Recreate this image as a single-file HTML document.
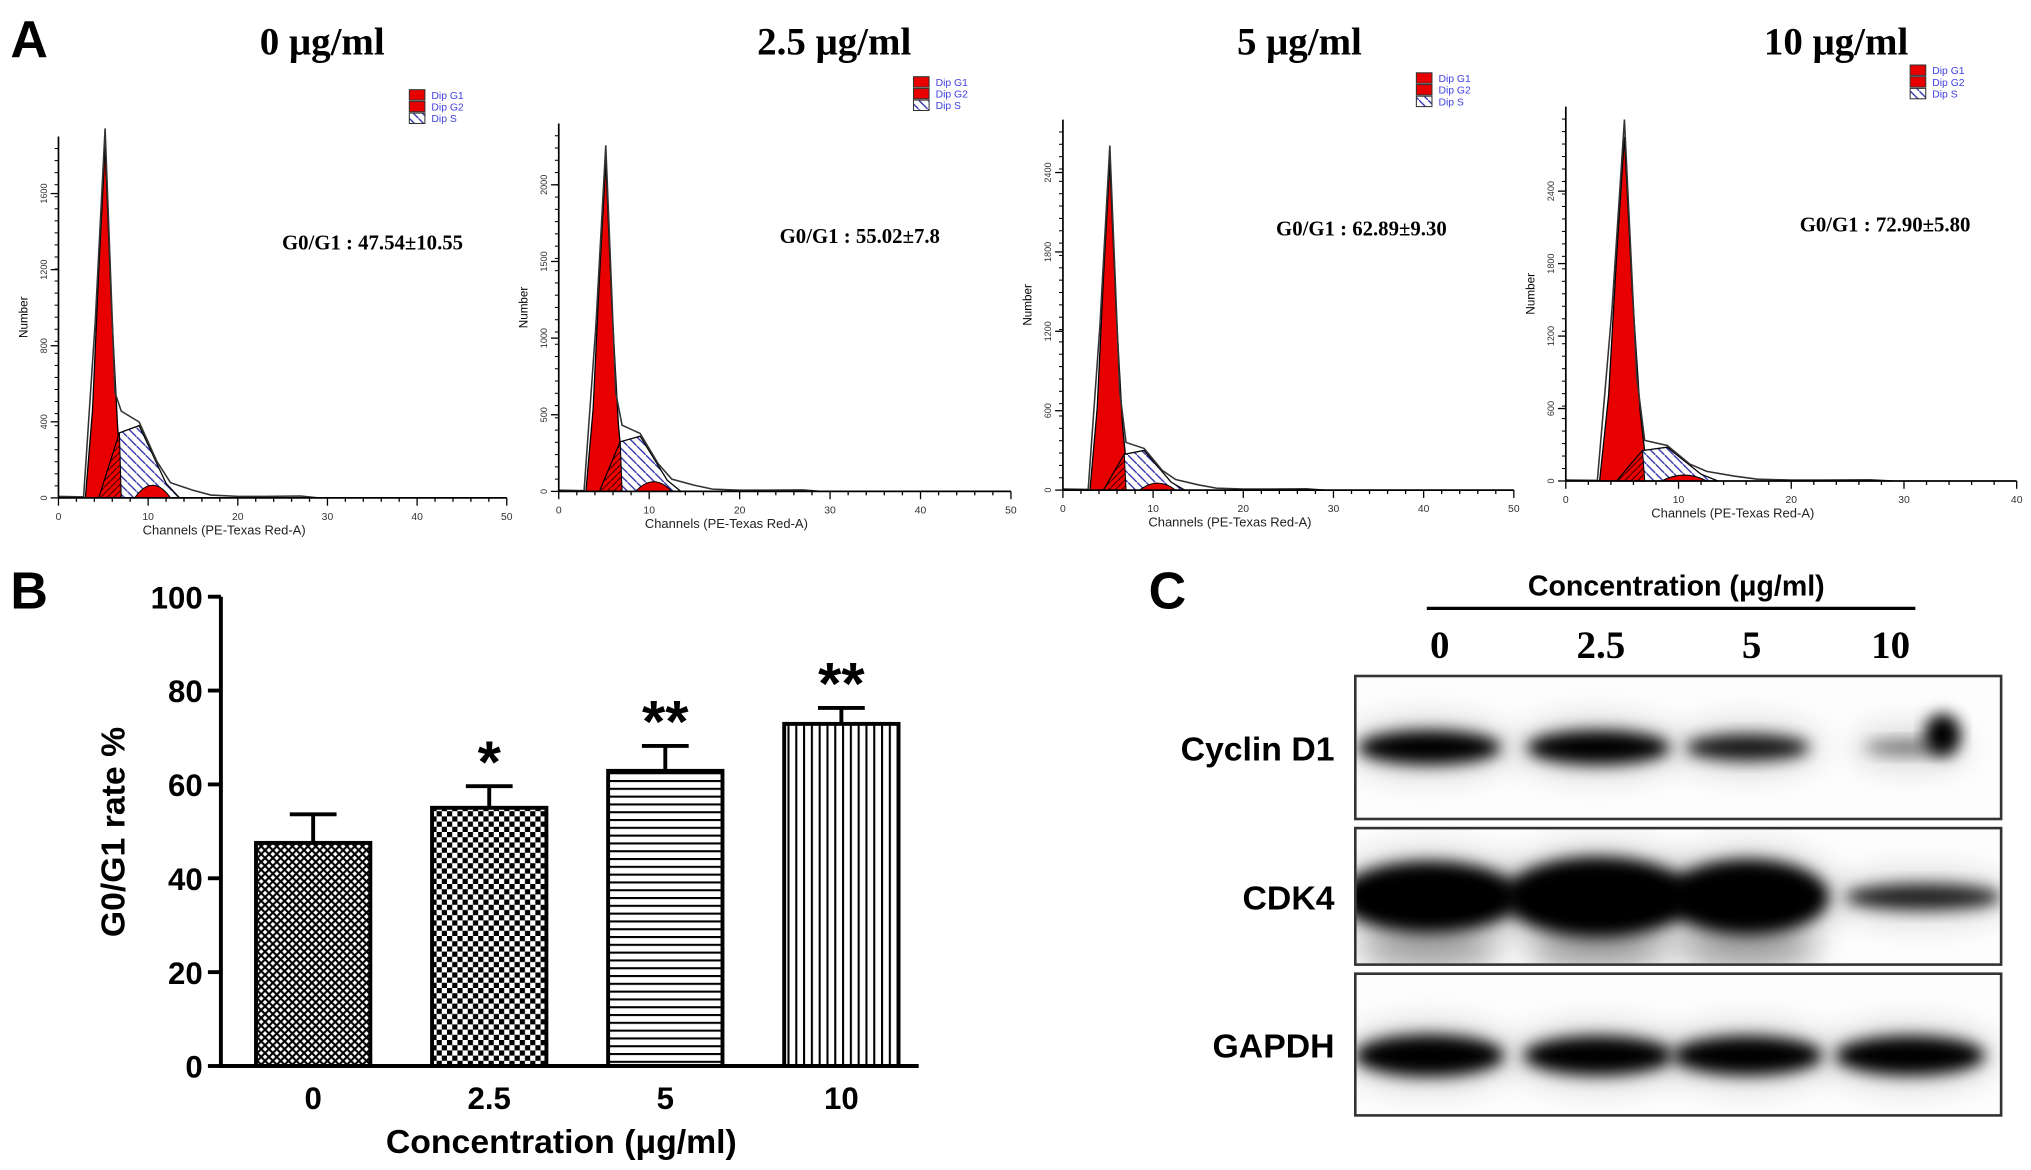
<!DOCTYPE html>
<html><head><meta charset="utf-8">
<style>
html,body{margin:0;padding:0;background:#fff;}
svg{display:block;}
text{font-family:"Liberation Sans",sans-serif;}
.serif{font-family:"Liberation Serif",serif;font-weight:bold;}
</style></head>
<body>
<svg id="fig" width="2031" height="1170" viewBox="0 0 1563 900" preserveAspectRatio="none" xmlns="http://www.w3.org/2000/svg">
<defs>
<pattern id="pS" width="7" height="7" patternUnits="userSpaceOnUse"><rect width="7" height="7" fill="#fff"/><path d="M0,0 L7,7" stroke="#2a2aa8" stroke-width="1"/></pattern>
<pattern id="pG1h" width="5" height="5" patternUnits="userSpaceOnUse"><rect width="5" height="5" fill="#e00"/><path d="M0,5 L5,0" stroke="#300" stroke-width="0.8"/></pattern>
<pattern id="pCross" width="6" height="6" patternUnits="userSpaceOnUse"><rect width="6" height="6" fill="#fff"/><path d="M0,0 L6,6 M6,0 L0,6" stroke="#000" stroke-width="1.6"/></pattern>
<pattern id="pCheck" width="8" height="8" patternUnits="userSpaceOnUse"><rect width="8" height="8" fill="#fff"/><rect width="4" height="4" fill="#000"/><rect x="4" y="4" width="4" height="4" fill="#000"/></pattern>
<pattern id="pHoriz" width="8" height="6" patternUnits="userSpaceOnUse"><rect width="8" height="6" fill="#fff"/><rect y="0" width="8" height="1.6" fill="#000"/></pattern>
<pattern id="pVert" width="6" height="8" patternUnits="userSpaceOnUse"><rect width="6" height="8" fill="#fff"/><rect x="0" width="1.6" height="8" fill="#000"/></pattern>
<filter id="blur" x="-30%" y="-50%" width="160%" height="200%"><feGaussianBlur stdDeviation="6"/></filter>
<filter id="blur2" x="-30%" y="-50%" width="160%" height="200%"><feGaussianBlur stdDeviation="12"/></filter>
</defs>
<text x="8" y="44" font-size="40" font-weight="bold">A</text>
<text x="8" y="468" font-size="40" font-weight="bold">B</text>
<text x="884" y="468" font-size="40" font-weight="bold">C</text>
<g id="panelA"></g>
<g id="panelB"></g>
<g id="panelC"></g>
</svg>
<script>
const NS="http://www.w3.org/2000/svg";
function el(tag,attrs,parent,txt){const e=document.createElementNS(NS,tag);for(const k in attrs)e.setAttribute(k,attrs[k]);if(txt!==undefined)e.textContent=txt;parent.appendChild(e);return e;}

/* ---------- Panel A data ---------- */
const histTitles=["0 μg/ml","2.5 μg/ml","5 μg/ml","10 μg/ml"];
const histG1Text=["G0/G1 :  47.54±10.55","G0/G1 :  55.02±7.8","G0/G1 :  62.89±9.30","G0/G1 :  72.90±5.80"];
const histYTicks=[["0","400","800","1200","1600"],["0","500","1000","1500","2000"],["0","600","1200","1800","2400"],["0","600","1200","1800","2400"]];
const histYMax=[1900,2400,2800,3100];
const histPeak=[1850,2150,2480,2850];
const histSPlateau=[380,360,300,280];
const histXMax=[50,50,50,40];
const histXTicks=[[0,10,20,30,40,50],[0,10,20,30,40,50],[0,10,20,30,40,50],[0,10,20,30,40]];
const histTitleX=[248,642,1000,1413];
const histBox=[[45,390,105,383],[430,778,95,378],[818,1165,92,377],[1205,1552,82,370]];
const histG1Pos=[[217,192],[600,187],[982,181],[1385,178]];

const A=document.getElementById('panelA');
for(let p=0;p<4;p++){
  const g=el('g',{},A);
  
  
  const [x0,x1,yt,yb]=histBox[p];
  const xm=histXMax[p], ym=histYMax[p];
  const X=c=>x0+(c/xm)*(x1-x0);
  const Y=v=>yb-(v/ym)*(yb-yt);
  const t=el('text',{x:histTitleX[p],y:42,'font-size':30,'text-anchor':'middle',class:'serif'},g,histTitles[p]);
  
  const pk=histPeak[p], sp=histSPlateau[p];
  const g1=[[3,0],[3.8,pk*0.25],[4.5,pk*0.65],[5.2,pk],[5.9,pk*0.55],[6.6,pk*0.2],[7.3,0]];
  el('path',{d:'M'+g1.map(q=>X(q[0])+','+Y(q[1])).join(' L')+'Z',fill:'#e80000',stroke:'#000','stroke-width':1},g);
  const s=[[4.5,0],[6.8,sp*0.9],[9,sp],[10.5,sp*0.6],[12,sp*0.2],[13.5,0]];
  el('path',{d:'M'+s.map(q=>X(q[0])+','+Y(q[1])).join(' L')+'Z',fill:'url(#pS)',stroke:'#000','stroke-width':1},g);
  el('path',{d:`M${X(4.5)},${Y(0)} L${X(6.8)},${Y(sp*0.9)} L${X(7)},${Y(0)}Z`,fill:'url(#pG1h)',stroke:'#000','stroke-width':0.8},g);
  el('path',{d:`M${X(8.5)},${Y(0)} Q${X(10.5)},${Y(sp*0.35)} ${X(12.5)},${Y(0)}Z`,fill:'#e80000',stroke:'#000','stroke-width':0.8},g);
  const o=[[0,8],[2.8,5],[4.1,pk*0.5],[5.2,pk*1.05],[6.3,pk*0.3],[7,sp*1.2],[9,sp*1.05],[11,sp*0.5],[12.5,80],[15,40],[17,15],[20,8],[23,8],[27,10],[29,0]];
  el('path',{d:'M'+o.map(q=>X(q[0])+','+Y(q[1])).join(' L'),fill:'none',stroke:'#333','stroke-width':1.2},g);
  el('line',{x1:x0,y1:yt,x2:x0,y2:yb,stroke:'#000','stroke-width':1.3},g);
  el('line',{x1:x0,y1:yb,x2:x1,y2:yb,stroke:'#000','stroke-width':1.3},g);
  for(let c=0;c<=xm;c+=2) el('line',{x1:X(c),y1:yb,x2:X(c),y2:yb+(c%10==0?6:3),stroke:'#000','stroke-width':1},g);
  histXTicks[p].forEach(c=>{el('text',{x:X(c),y:yb+17,'font-size':8,'text-anchor':'middle',fill:'#333'},g,String(c));});
  histYTicks[p].forEach((l,i)=>{const v=+l;const yy=Y(v);el('line',{x1:x0-6,y1:yy,x2:x0,y2:yy,stroke:'#000'},g);
    el('text',{x:x0-9,y:yy,'font-size':7,'text-anchor':'middle',transform:`rotate(-90 ${x0-9} ${yy})`,fill:'#333'},g,l);});
  for(let k=1;k<30;k++){const yy=yb-k*(yb-yt)/30;if(yy<yt)break;el('line',{x1:x0-3,y1:yy,x2:x0,y2:yy,stroke:'#000','stroke-width':0.8},g);}
  el('text',{x:x0-24,y:(yt+yb)/2,'font-size':9,'text-anchor':'middle',transform:`rotate(-90 ${x0-24} ${(yt+yb)/2})`},g,'Number');
  el('text',{x:(x0+x1)/2-45,y:yb+28,'font-size':10,'text-anchor':'middle',fill:'#222'},g,'Channels (PE-Texas Red-A)');
  const gt=el('text',{x:histG1Pos[p][0],y:histG1Pos[p][1],'font-size':16,class:'serif'},g,histG1Text[p]);
  
  const lx=x1-75+(p==3?-7:0), ly=yt-36+(p==3?4:0);
  const lg=el('g',{},g);
  ['Dip G1','Dip G2','Dip S'].forEach((n,i)=>{
    el('rect',{x:lx,y:ly+i*9,width:12,height:8,fill:i<2?'#e80000':'url(#pS)',stroke:'#333','stroke-width':0.8},lg);
    el('text',{x:lx+17,y:ly+i*9+7,'font-size':8,fill:'#4040e0'},lg,n);
  });
}

/* ---------- Panel B data ---------- */
const barCats=["0","2.5","5","10"];
const barVals=[47.54,55.02,62.89,72.9];
const barErr=[6.1,4.6,5.3,3.4];
const barSig=["","*","**","**"];
const yTicks=[0,20,40,60,80,100];
const B=document.getElementById('panelB');
const bx0=170,bx1=707,by0=820,by1=459;
const yS=v=>by0-(v/100)*(by0-by1);
const xS=i=>241+i*135.5;
const fills=['url(#pCross)','url(#pCheck)','url(#pHoriz)','url(#pVert)'];
barVals.forEach((v,i)=>{
  const cx=xS(i),w=88;
  const e=el('line',{x1:cx,y1:yS(v),x2:cx,y2:yS(v+barErr[i]),stroke:'#000','stroke-width':3},B);
  
  el('line',{x1:cx-18,y1:yS(v+barErr[i]),x2:cx+18,y2:yS(v+barErr[i]),stroke:'#000','stroke-width':3},B);
  const r=el('rect',{x:cx-w/2,y:yS(v),width:w,height:by0-yS(v),fill:fills[i],stroke:'#000','stroke-width':3},B);
  
  if(barSig[i]){const s=el('text',{x:cx,y:yS(v+barErr[i])-3,'font-size':46,'font-weight':'bold','text-anchor':'middle'},B,barSig[i]);
    }
  const l=el('text',{x:cx,y:853,'font-size':24,'font-weight':'bold','text-anchor':'middle'},B,barCats[i]);
  
});
el('line',{x1:bx0,y1:by1,x2:bx0,y2:by0+1.5,stroke:'#000','stroke-width':3},B);
el('line',{x1:bx0-1.5,y1:by0,x2:bx1,y2:by0,stroke:'#000','stroke-width':3},B);
yTicks.forEach(t=>{el('line',{x1:bx0-10,y1:yS(t),x2:bx0,y2:yS(t),stroke:'#000','stroke-width':3},B);
  const tl=el('text',{x:bx0-14,y:yS(t)+9,'font-size':24,'font-weight':'bold','text-anchor':'end'},B,String(t));
  });
const yt=el('text',{x:96,y:640,'font-size':26,'font-weight':'bold','text-anchor':'middle',transform:'rotate(-90 96 640)'},B,'G0/G1 rate %');

const xt=el('text',{x:432,y:887,'font-size':26,'font-weight':'bold','text-anchor':'middle'},B,'Concentration (μg/ml)');


/* ---------- Panel C ---------- */
const blotLanes=["0","2.5","5","10"];
const blotRows=["Cyclin D1","CDK4","GAPDH"];
const bandIntensity=[[1,1,0.9,0.45],[1,1,1,0.85],[1,1,1,1]];
const C=document.getElementById('panelC');
const ct=el('text',{x:1290,y:458,'font-size':22,'font-weight':'bold','text-anchor':'middle'},C,'Concentration (μg/ml)');

el('line',{x1:1098,y1:468,x2:1474,y2:468,stroke:'#000','stroke-width':2.5},C);
const laneX=[1108,1232,1348,1455];
blotLanes.forEach((l,i)=>{const t=el('text',{x:laneX[i],y:506,'font-size':30,'text-anchor':'middle',class:'serif'},C,l);
  });
const rowBox=[[520,630],[637,742],[749,858]];
const rowBandY=[575,690,812];
const rowBandH=[[26,26,20,12],[55,62,58,20],[32,30,30,30]];
const rowBandW=[[110,110,95,70],[140,145,125,120],[115,115,115,115]];
const bandCX=[1100,1230,1345,1470];
blotRows.forEach((r,ri)=>{
  const g=el('g',{},C);
  const [t,b]=rowBox[ri];
  el('rect',{x:1043,y:t,width:497,height:b-t,fill:'#fdfdfd',stroke:'#333','stroke-width':2},g);
  const cp=el('clipPath',{id:'cl'+ri},g);el('rect',{x:1044,y:t+1,width:495,height:b-t-2},cp);
  const inner=el('g',{'clip-path':`url(#cl${ri})`},g);
  bandIntensity[ri].forEach((v,i)=>{
    let cx=bandCX[i]; if(ri==1&&i==3)cx=1480;
    el('ellipse',{cx:cx,cy:rowBandY[ri],rx:rowBandW[ri][i]/2+10,ry:rowBandH[ri][i]/2+10,fill:'#000',opacity:0.15,filter:'url(#blur2)'},inner);
    const e=el('ellipse',{cx:cx,cy:rowBandY[ri],rx:rowBandW[ri][i]/2,ry:rowBandH[ri][i]/2,fill:'#000',opacity:v,filter:'url(#blur)'},inner);
    
  });
  if(ri==0){el('ellipse',{cx:1495,cy:565,rx:14,ry:16,fill:'#000',filter:'url(#blur)'},inner);}
  if(ri==1){[1100,1230,1345].forEach(cx=>el('ellipse',{cx:cx,cy:730,rx:55,ry:16,fill:'#000',opacity:0.35,filter:'url(#blur2)'},inner));}
  const lt=el('text',{x:1027,y:(t+b)/2+10,'font-size':26,'font-weight':'bold','text-anchor':'end'},g,r);
  
});
</script>
</body></html>
